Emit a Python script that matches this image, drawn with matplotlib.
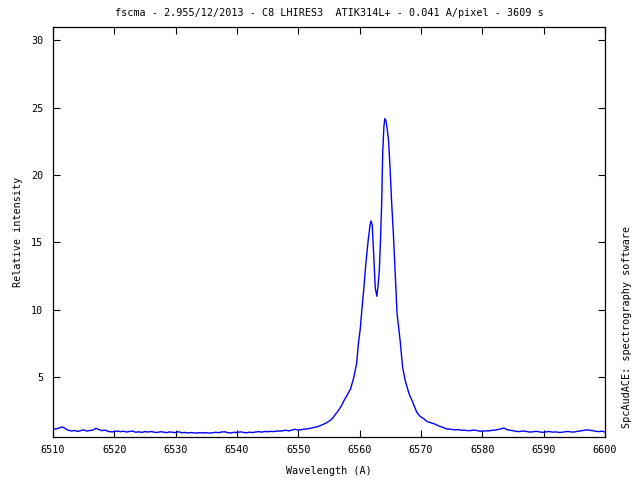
import matplotlib
matplotlib.use("Agg")
import matplotlib.pyplot as plt
import numpy as np

# blue continuum, 0.5 A sampling from 6510.0 to 6555.0
blue_start = 6510.0
blue_step = 0.5
blue_flux = [
    1.17, 1.14, 1.22, 1.30, 1.18, 1.05, 1.00, 1.03, 0.97, 1.02,
    1.08, 0.99, 1.03, 1.06, 1.20, 1.10, 1.02, 1.06, 0.97, 0.93,
    0.95, 1.00, 0.94, 0.98, 0.92, 0.96, 0.99, 0.90, 0.94, 0.89,
    0.95, 0.92, 0.96, 0.91, 0.89, 0.94, 0.92, 0.87, 0.93, 0.90,
    0.88, 0.94, 0.86, 0.89, 0.85, 0.88, 0.86, 0.84, 0.88, 0.85,
    0.87, 0.84, 0.86, 0.90, 0.87, 0.92, 0.94, 0.87, 0.85, 0.90,
    0.88, 0.93, 0.90, 0.86, 0.91, 0.88, 0.92, 0.95, 0.91, 0.96,
    0.94, 0.97, 0.95, 1.00, 0.98, 1.02, 1.05, 1.00, 1.08, 1.12,
    1.06, 1.10, 1.13, 1.16, 1.20, 1.26, 1.30, 1.38, 1.48, 1.58,
    1.72,
]

# H-alpha emission core (double peaked)
core_wave = [6555.5, 6556.0, 6556.5, 6557.0, 6557.5, 6558.0, 6558.5, 6559.0,
             6559.5, 6559.8, 6560.1, 6560.3, 6560.7, 6561.0, 6561.4, 6561.7,
             6561.85, 6562.05, 6562.3, 6562.55, 6562.8, 6563.0, 6563.2, 6563.4,
             6563.6, 6563.75, 6563.95, 6564.1, 6564.3, 6564.5, 6564.7, 6564.95,
             6565.2, 6565.5, 6565.8, 6566.1, 6566.6, 6567.0, 6567.4, 6567.7,
             6568.1, 6568.5, 6568.9, 6569.3, 6569.8, 6570.4]
core_flux = [1.90, 2.20, 2.50, 2.85, 3.30, 3.70, 4.10, 4.90,
             6.00, 7.50, 8.60, 9.70, 11.7, 13.4, 15.2, 16.3,
             16.6, 16.3, 13.9, 11.6, 11.0, 11.8, 12.9, 15.2,
             18.1, 21.6, 23.6, 24.2, 24.0, 23.4, 22.6, 20.6,
             18.1, 15.6, 12.7, 9.7, 7.7, 5.75, 4.8, 4.3,
             3.7, 3.3, 2.85, 2.4, 2.1, 1.92]

# red continuum, 0.5 A sampling from 6571.0 to 6600.0
red_start = 6571.0
red_step = 0.5
red_flux = [
    1.70, 1.62, 1.55, 1.46, 1.35, 1.28, 1.17, 1.14,
    1.12, 1.08, 1.10, 1.06, 1.05, 1.03, 1.02, 1.06, 1.04, 0.99,
    0.98, 1.01, 1.00, 1.04, 1.06, 1.10, 1.15, 1.22, 1.10, 1.05,
    1.02, 0.97, 0.95, 0.99, 0.98, 0.93, 0.92, 0.96, 0.96, 0.91,
    0.90, 0.94, 0.95, 0.91, 0.93, 0.89, 0.90, 0.94, 0.96, 0.92,
    0.92, 0.97, 1.00, 1.04, 1.08, 1.05, 1.02, 0.97, 0.95, 0.98,
    0.92,
]

blue_wave = blue_start + blue_step * np.arange(len(blue_flux))
red_wave = red_start + red_step * np.arange(len(red_flux))
wave = np.concatenate([blue_wave, core_wave, red_wave])
flux = np.concatenate([blue_flux, core_flux, red_flux])

fs = 7.3
font = {"family": "DejaVu Sans Mono", "size": fs}

fig = plt.figure(figsize=(6.4, 4.8), dpi=100)
ax = fig.add_axes([53/640, 43/480, 552/640, 410/480])
ax.plot(wave, flux, color="#0000ff", lw=1.0)

ax.set_xlim(6510, 6600)
ax.set_ylim(0.55, 31)
ax.set_xticks(np.arange(6510, 6601, 10))
ax.set_yticks([5, 10, 15, 20, 25, 30])
ax.tick_params(direction="in", length=5, width=0.8, top=True, right=True,
               labelsize=fs, colors="black")
ax.tick_params(axis="x", pad=6)
ax.tick_params(axis="y", pad=7)
for lab in ax.get_xticklabels() + ax.get_yticklabels():
    lab.set_family("DejaVu Sans Mono")
for s in ax.spines.values():
    s.set_linewidth(0.9)

ax.set_xlabel("Wavelength (A)", fontdict=font, labelpad=8)
ax.set_ylabel("Relative intensity", fontdict=font, labelpad=6)
ax.set_title("fscma - 2.955/12/2013 - C8 LHIRES3  ATIK314L+ - 0.041 A/pixel - 3609 s",
             fontdict=font, pad=8)
fig.text(627/640, 1 - 428/480, "SpcAudACE: spectrography software",
         rotation=90, ha="center", va="bottom", **font)

fig.savefig("out.png", dpi=100)
